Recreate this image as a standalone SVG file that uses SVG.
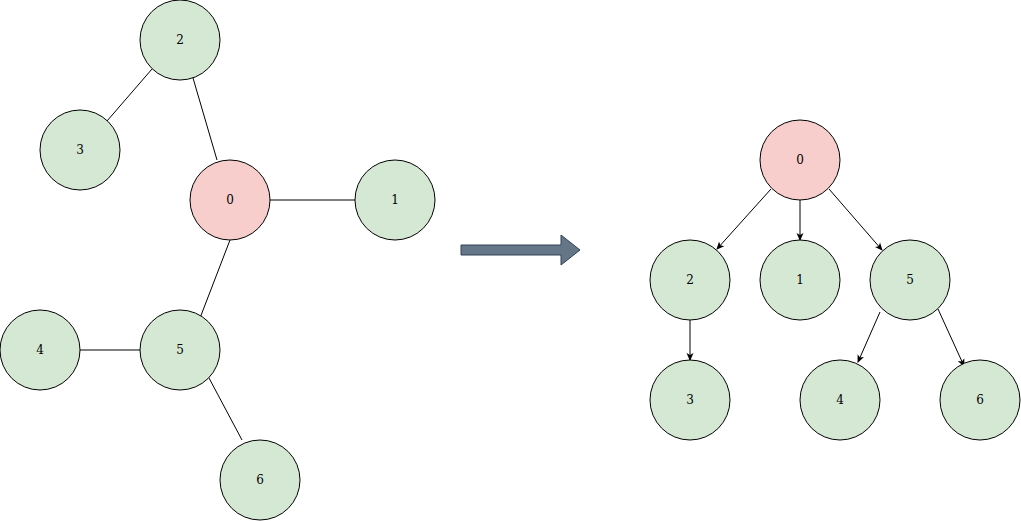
<svg xmlns="http://www.w3.org/2000/svg" width="1021" height="521" viewBox="0 0 1021 521">
<style>
.g{fill:#d5e8d4;stroke:#000;stroke-width:1}
.r{fill:#f8cecc;stroke:#000;stroke-width:1}
text{font-family:"DejaVu Serif",serif;font-size:12px;text-anchor:middle;dominant-baseline:central}
.e{stroke:#000;stroke-width:1;fill:none}
</style>
<defs><marker id="a" markerWidth="8" markerHeight="8" refX="7" refY="4" orient="auto" markerUnits="userSpaceOnUse"><path d="M0,0.5 L8,4 L0,7.5 L2,4 Z" fill="#000"/></marker></defs>
<rect width="1021" height="521" fill="#fff"/>
<g id="connectors">
<line class="e" x1="193" y1="78" x2="217" y2="160"/>
<line class="e" x1="152" y1="69" x2="107" y2="121"/>
<line class="e" x1="270" y1="200" x2="355" y2="200"/>
<line class="e" x1="230" y1="240" x2="200" y2="318"/>
<line class="e" x1="80" y1="350" x2="140" y2="350"/>
<line class="e" x1="209" y1="378" x2="242" y2="440"/>
<line class="e" x1="771" y1="189" x2="717" y2="249" marker-end="url(#a)"/>
<line class="e" x1="800" y1="200" x2="800" y2="240" marker-end="url(#a)"/>
<line class="e" x1="829" y1="189" x2="882" y2="250" marker-end="url(#a)"/>
<line class="e" x1="690" y1="320" x2="690" y2="360" marker-end="url(#a)"/>
<line class="e" x1="880" y1="312" x2="858" y2="362" marker-end="url(#a)"/>
<line class="e" x1="938" y1="309" x2="964" y2="366" marker-end="url(#a)"/>
</g>
<g id="bigarrow"><path d="M461,245 H561 V235 L580,250 L561,265 V255 H461 Z" fill="#647687" stroke="#314354"/></g>
<g id="L2"><circle class="g" cx="180" cy="40" r="40"/><text x="180" y="40">2</text></g>
<g id="L3"><circle class="g" cx="80" cy="150" r="40"/><text x="80" y="150">3</text></g>
<g id="L0"><circle class="r" cx="230" cy="200" r="40"/><text x="230" y="200">0</text></g>
<g id="L1"><circle class="g" cx="395" cy="200" r="40"/><text x="395" y="200">1</text></g>
<g id="L4"><circle class="g" cx="40" cy="350" r="40"/><text x="40" y="350">4</text></g>
<g id="L5"><circle class="g" cx="180" cy="350" r="40"/><text x="180" y="350">5</text></g>
<g id="L6"><circle class="g" cx="260" cy="480" r="40"/><text x="260" y="480">6</text></g>
<g id="R0"><circle class="r" cx="800" cy="160" r="40"/><text x="800" y="160">0</text></g>
<g id="R2"><circle class="g" cx="690" cy="280" r="40"/><text x="690" y="280">2</text></g>
<g id="R1"><circle class="g" cx="800" cy="280" r="40"/><text x="800" y="280">1</text></g>
<g id="R5"><circle class="g" cx="910" cy="280" r="40"/><text x="910" y="280">5</text></g>
<g id="R3"><circle class="g" cx="690" cy="400" r="40"/><text x="690" y="400">3</text></g>
<g id="R4"><circle class="g" cx="840" cy="400" r="40"/><text x="840" y="400">4</text></g>
<g id="R6"><circle class="g" cx="980" cy="400" r="40"/><text x="980" y="400">6</text></g>
</svg>
